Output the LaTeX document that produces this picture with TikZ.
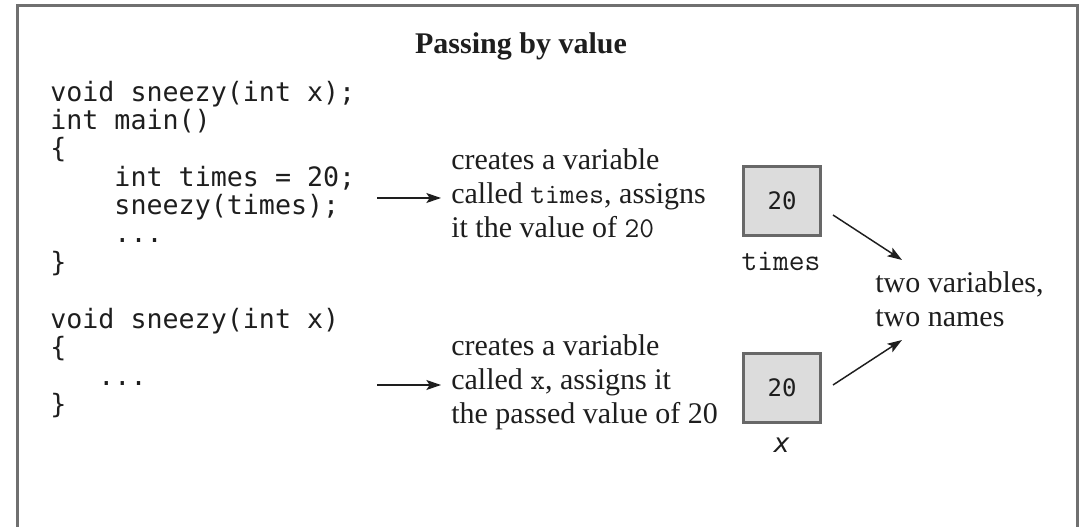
\documentclass[tikz,border=0pt]{standalone}
\usepackage{fontspec}
\setmainfont{Liberation Serif}
\setmonofont{Latin Modern Mono}
\newfontfamily\codefont{DejaVu Sans Mono}
\usetikzlibrary{arrows.meta}
\definecolor{framegray}{HTML}{707070}
\definecolor{boxgray}{HTML}{DCDCDC}
\definecolor{boxline}{HTML}{686868}
\definecolor{ink}{HTML}{1E1E1E}
\tikzset{
  code/.style={anchor=base west, inner sep=0pt, text=ink, font=\codefont\fontsize{20}{22}\selectfont},
  note/.style={anchor=base west, inner sep=0pt, text=ink, font=\fontsize{22.5}{25}\selectfont},
  cellbox/.style={draw=boxline, line width=2.25pt, fill=boxgray, minimum width=57.75pt, minimum height=51.75pt, inner sep=0pt, text=ink, font=\codefont\fontsize{18}{20}\selectfont},
  varname/.style={anchor=base, inner sep=0pt, text=ink},
  arr/.style={draw=ink, line width=1.1pt, -{Stealth[length=11pt,width=7.5pt,inset=2.5pt]}}
}
\newcommand{\inl}[1]{{\ttfamily\fontsize{21.5}{24}\selectfont #1}}
\begin{document}
\begin{tikzpicture}[x=0.75pt,y=-0.75pt]
\useasboundingbox (0,0) rectangle (1086,527);
% open frame
\draw[framegray, line width=2.25pt] (17,530) -- (17,6) -- (1077,6) -- (1077,530);

% title
\node[anchor=base, inner sep=0pt, text=ink, font=\bfseries\fontsize{22.5}{25}\selectfont] (title) at (521,54) {Passing by value};

% main program
\node[code] (c1) at (50,102) {void sneezy(int x);};
\node[code] (c2) at (50,130) {int main()};
\node[code] (c3) at (50,158) {\{};
\node[code] (c4) at (50,187) {~~~~int times = 20;};
\node[code] (c5) at (50,215) {~~~~sneezy(times);};
\node[code] (c6) at (50,243) {~~~~...};
\node[code] (c7) at (50,272) {\}};

% function definition
\node[code] (d1) at (50,329) {void sneezy(int x)};
\node[code] (d2) at (50,357) {\{};
\node[code] (d3) at (50,386) {~~~...};
\node[code] (d4) at (50,414) {\}};

% explanations
\node[note] (t1) at (451,170) {creates a variable};
\node[note] (t2) at (451,204) {called \inl{times}, assigns};
\node[note] (t3) at (451,238) {it the value of \inl{20}};
\node[note] (u1) at (451,356) {creates a variable};
\node[note] (u2) at (451,390) {called \inl{x}, assigns it};
\node[note] (u3) at (451,424) {the passed value of 20};

\coordinate (a1) at (377,198);
\coordinate (a2) at (377,385);
\draw[arr] (a1) -- ([xshift=-7.5pt]t2.west |- a1);
\draw[arr] (a2) -- ([xshift=-7.5pt]u2.west |- a2);

% the two memory cells
\node[cellbox] (b1) at (782,201) {20};
\node[varname, font=\ttfamily\fontsize{23}{26}\selectfont] (n1) at (781,271) {times};
\node[cellbox] (b2) at (782,388) {20};
\node[varname, font=\codefont\itshape\fontsize{20}{22}\selectfont] (n2) at (782,452) {x};

% summary
\node[note] (v1) at (875,293) {two variables,};
\node[note] (v2) at (875,327) {two names};
\draw[arr] ([shift={(11,14)}]b1.east) -- ([shift={(27,-33)}]v1.base west);
\draw[arr] ([shift={(11,-3)}]b2.east) -- ([shift={(27,13)}]v2.base west);
\end{tikzpicture}
\end{document}
